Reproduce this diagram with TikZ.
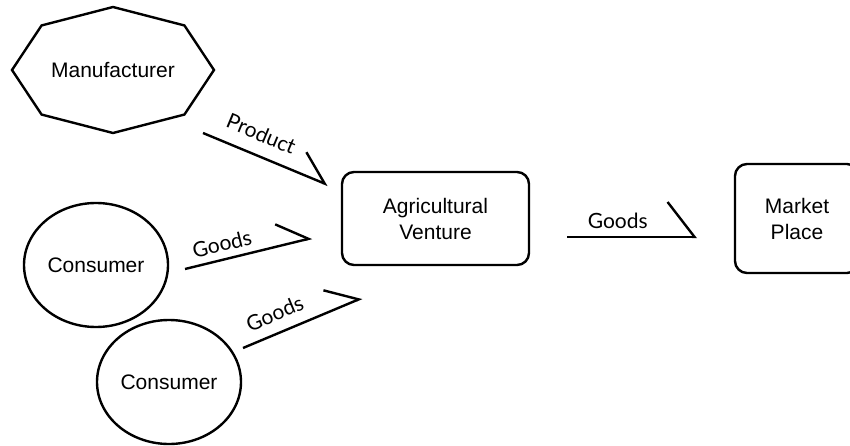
\documentclass[tikz,border=0pt]{standalone}
\usepackage{fontspec}
\setmainfont{Liberation Sans}
\newfontfamily\labelfont{Lato}
\usetikzlibrary{shapes.geometric,arrows.meta}

\begin{document}
\begin{tikzpicture}[x=0.5pt,y=0.5pt,
    edge/.style={line width=1.2pt},
    actor/.style={edge, draw, ellipse, minimum width=72pt, minimum height=62pt, inner sep=0pt},
    place/.style={edge, draw, rounded corners=6pt, align=center},
    flow/.style={edge, -{Straight Barb[left, length=14.5pt, width=22pt, line width=1.2pt]}},
    wideflow/.style={edge, -{Straight Barb[left, length=13.5pt, width=35pt, line width=1.2pt]}},
    flowlabel/.style={font=\labelfont\fontsize{10.5}{12}\selectfont, sloped, above}]
\path[use as bounding box, clip] (0,0) rectangle (850,445);
\tikzset{every node/.append style={font=\fontsize{10.5}{13}\selectfont}}
% nodes
\node (manu) at (113,375) {Manufacturer};
\draw[edge] (manu.center) +(0:101 and 63) -- +(45:101 and 63) -- +(90:101 and 63)
    -- +(135:101 and 63) -- +(180:101 and 63) -- +(225:101 and 63)
    -- +(270:101 and 63) -- +(315:101 and 63) -- cycle;
\node[actor] (cons1) at (96,180) {Consumer};
\node[actor] (cons2) at (169,63) {Consumer};
\node[place, minimum width=93.5pt, minimum height=46.5pt] (agri) at (435.5,226.5) {Agricultural\\Venture};
\node[place, minimum width=62pt, minimum height=54.5pt] (market) at (797,226.5) {Market\\Place};
% arrow ends
\coordinate (prodA) at (203,312);
\coordinate (prodB) at (328,260);
\coordinate (goodsA) at (185,176);
\coordinate (goodsB) at (312,207);
\coordinate (goodsC) at (243,97);
\coordinate (goodsD) at (362,147);
\coordinate (goodsE) at (567,208);
\coordinate (goodsF) at (697,208);
% arrows
\draw[flow] (prodA) -- (prodB) node[flowlabel, pos=0.4, yshift=3pt] {Product};
\draw[flow] (goodsA) -- (goodsB) node[flowlabel, pos=0.32] {Goods};
\draw[flow] (goodsC) -- (goodsD) node[flowlabel, pos=0.33, yshift=2pt] {Goods};
\draw[wideflow] (goodsE) -- (goodsF) node[flowlabel, pos=0.39] {Goods};
\end{tikzpicture}
\end{document}
